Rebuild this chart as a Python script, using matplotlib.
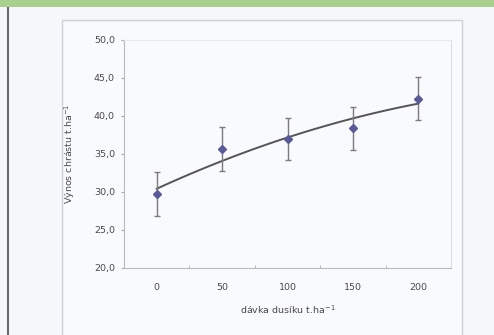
import numpy as np
import matplotlib.pyplot as plt
from matplotlib.patches import Rectangle
from matplotlib.lines import Line2D

# dávka dusíku vs. výnos
davka = [0, 50, 100, 150, 200]
vynos = [29.7, 35.6, 37.0, 38.4, 42.3]
chyba = [2.9, 2.9, 2.8, 2.85, 2.8]
y_ticks = [20, 25, 30, 35, 40, 45, 50]
y_labels = ["20,0", "25,0", "30,0", "35,0", "40,0", "45,0", "50,0"]

fig = plt.figure(figsize=(4.94, 3.35), dpi=100)
fig.patch.set_facecolor("#f6f7fb")

# page decoration: green band, left page edge, chart frame
fig.patches.append(Rectangle((0, 1 - 7/335), 1, 7/335, transform=fig.transFigure,
                             facecolor="#a9d08e", edgecolor="none", zorder=-10))
fig.lines.append(Line2D([8/494, 8/494], [0, 1 - 7/335], transform=fig.transFigure,
                        color="#6a6a6a", lw=1.5, zorder=-10))
fig.patches.append(Rectangle((62/494, -0.02), 400/494, 1.02 - 20/335, transform=fig.transFigure,
                             facecolor="#f9fafd", edgecolor="#cfd0d6", lw=1.0, zorder=-10))

ax = fig.add_axes([124/494, 1 - 268/335, 327/494, 228/335])
ax.set_facecolor("#f9fafd")

ax.errorbar(davka, vynos, yerr=chyba, fmt="D", color="#5a5a98", ms=4.2,
            ecolor="#7a7a80", elinewidth=1.0, capsize=2.5, capthick=1.0, zorder=3)

# polynomial trendline (2nd order) from the data
koef = np.polyfit(davka, vynos, 2)
xs = np.linspace(davka[0], davka[-1], 100)
ax.plot(xs, np.polyval(koef, xs), color="#555555", lw=1.4, zorder=2)

ax.set_xlim(-25, 225)
ax.set_ylim(20, 50)
ax.set_yticks(y_ticks)
ax.set_yticklabels(y_labels)
ax.set_xticks(davka)
ax.set_xticks([25, 75, 125, 175], minor=True)
ax.tick_params(axis="x", which="major", length=0, pad=11, labelsize=6.8, labelcolor="#4a4a4a")
ax.tick_params(axis="x", which="minor", length=2.5, direction="in", color="#aaaaaa")
ax.tick_params(axis="y", length=2.5, direction="out", color="#aaaaaa",
               labelsize=6.8, labelcolor="#4a4a4a", pad=4)

for side in ["left", "bottom"]:
    ax.spines[side].set_color("#b8b8bd")
ax.spines["right"].set_color("#dcdde2")
ax.spines["top"].set_color("#e8e9ee")

ax.set_ylabel("Výnos chrástu t.ha$^{-1}$", fontsize=6.8, color="#4a4a4a", labelpad=12)
ax.set_xlabel("dávka dusíku t.ha$^{-1}$", fontsize=6.8, color="#4a4a4a", labelpad=8)

fig.savefig("out.png", dpi=100, facecolor=fig.get_facecolor())
